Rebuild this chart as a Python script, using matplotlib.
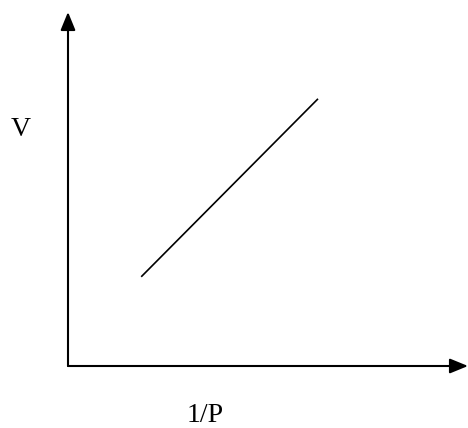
import matplotlib
matplotlib.use("Agg")
import matplotlib.pyplot as plt

# line (arbitrary units, 1 unit ~ 40 px)
inv_p = [1.83, 6.25]
vol = [2.23, 6.68]

x_label = "1/P"
y_label = "V"

fig = plt.figure(figsize=(4.68, 4.28), dpi=100)
fig.patch.set_facecolor("white")

# origin at pixel (68, 366), axes run to the arrow tips
ax = fig.add_axes([68 / 468, (428 - 366) / 428, 400 / 468, 354 / 428])
ax.set_xlim(0, 400 / 40)
ax.set_ylim(0, 354 / 40)
ax.axis("off")

ax.plot(inv_p, vol, color="black", lw=1.2, solid_capstyle="butt")

# axes with filled arrow heads
arrow = dict(arrowstyle="-|>,head_length=1.1,head_width=0.45", color="black",
             lw=1.5, shrinkA=0, shrinkB=0)
ax.annotate("", xy=(0, 354 / 40), xytext=(0, 0), arrowprops=arrow)
ax.annotate("", xy=(400 / 40, 0), xytext=(0, 0), arrowprops=arrow)

fig.text(21 / 468, 1 - 129 / 428, y_label, family="Liberation Serif",
         fontsize=20, ha="center", va="center")
fig.text(205 / 468, 1 - 416 / 428, x_label, family="Liberation Serif",
         fontsize=20, ha="center", va="center")

fig.savefig("out.png", dpi=100, facecolor="white")
